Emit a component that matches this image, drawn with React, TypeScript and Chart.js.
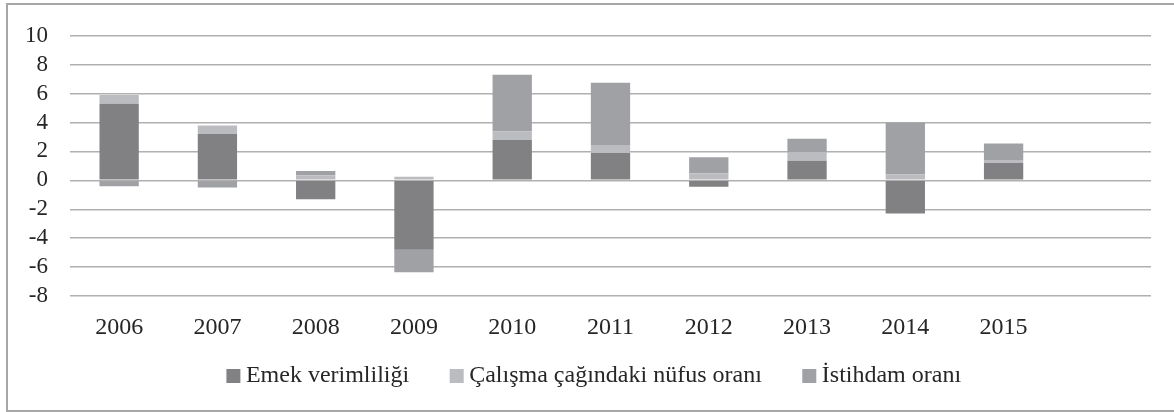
import React, { useEffect, useRef } from "react";
import { Chart, registerables } from "chart.js";

Chart.register(...registerables);

const categories = ["2006", "2007", "2008", "2009", "2010", "2011", "2012", "2013", "2014", "2015", ""];
const emekVerimliligi = [5.3, 3.2, -1.3, -4.8, 2.8, 1.9, -0.45, 1.35, -2.3, 1.2];
const calismaCagindaki = [0.6, 0.6, 0.35, 0.25, 0.6, 0.55, 0.5, 0.57, 0.4, 0.2];
const istihdamOrani = [-0.4, -0.5, 0.3, -1.55, 3.9, 4.3, 1.1, 0.95, 3.6, 1.15];
const yTickValues = [-8, -6, -4, -2, 0, 2, 4, 6, 8, 10];

const FONT = "'Liberation Serif', serif";
const TEXT = "#262626";

const shiftLegend = {
  id: "shiftLegend",
  afterLayout(chart: any) {
    const l = chart.legend;
    if (!l) return;
    l.left += 21.5;
    l.right += 21.5;
    l.top -= 22;
    l.bottom -= 22;
  },
};

export default function App() {
  const ref = useRef<HTMLCanvasElement>(null);
  useEffect(() => {
    if (!ref.current) return;
    const chart = new Chart(ref.current, {
      type: "bar",
      data: {
        labels: categories,
        datasets: [
          { label: "Emek verimliliği", data: emekVerimliligi, backgroundColor: "#818184" },
          { label: "Çalışma çağındaki nüfus oranı", data: calismaCagindaki, backgroundColor: "#bbbcc0" },
          { label: "İstihdam oranı", data: istihdamOrani, backgroundColor: "#a0a1a5" },
        ],
      },
      options: {
        animation: false,
        responsive: false,
        maintainAspectRatio: false,
        datasets: { bar: { categoryPercentage: 1, barPercentage: 0.4, borderWidth: 0 } },
        layout: { padding: { left: 0, right: 23, top: 33, bottom: -8 } },
        scales: {
          x: {
            stacked: true,
            grid: { display: false, drawTicks: false },
            border: { display: false },
            ticks: { color: TEXT, font: { family: FONT, size: 24 }, padding: 17, maxRotation: 0, autoSkip: false },
            afterFit: (s: any) => { s.height = 43; },
          },
          y: {
            stacked: true,
            min: -8,
            max: 10,
            grid: { color: "#b0b0b0", lineWidth: 1.5, drawTicks: false },
            border: { display: false },
            ticks: { color: TEXT, font: { family: FONT, size: 23 }, padding: 22, autoSkip: false },
            afterBuildTicks: (s: any) => { s.ticks = yTickValues.map((v) => ({ value: v })); },
            afterFit: (s: any) => { s.width = 70; },
          },
        },
        plugins: {
          tooltip: { enabled: false },
          legend: {
            position: "bottom",
            labels: {
              usePointStyle: true,
              pointStyle: "rect",
              boxWidth: 1,
              boxHeight: 14,
              padding: 47,
              color: TEXT,
              font: { family: FONT, size: 24 },
            },
          },
        },
      },
      plugins: [shiftLegend],
    });
    return () => chart.destroy();
  }, []);
  return (
    <div style={{ position: "fixed", left: 0, top: 0, width: 1174, height: 412, background: "#fff" }}>
      <div
        style={{
          position: "absolute",
          left: 6,
          top: 3,
          width: 1180,
          height: 405,
          borderLeft: "2px solid #a6a6a6",
          borderTop: "2px solid #a6a6a6",
          borderBottom: "2px solid #a6a6a6",
        }}
      />
      <canvas ref={ref} width={1174} height={412} style={{ position: "absolute", left: 0, top: 0 }} />
    </div>
  );
}
